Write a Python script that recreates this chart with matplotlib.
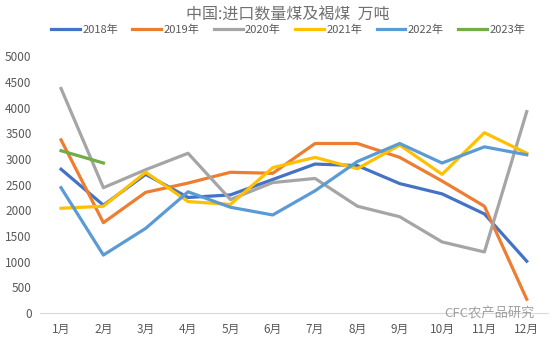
import matplotlib.pyplot as plt

plt.rcParams['font.family'] = ['Noto Sans CJK SC', 'DejaVu Sans']

months = ['1月', '2月', '3月', '4月', '5月', '6月', '7月', '8月', '9月', '10月', '11月', '12月']
y2018 = [2800, 2100, 2700, 2250, 2300, 2600, 2900, 2870, 2520, 2320, 1930, 1010]
y2019 = [3370, 1760, 2350, 2530, 2740, 2720, 3300, 3300, 3030, 2570, 2080, 270]
y2020 = [4370, 2440, 2790, 3110, 2210, 2540, 2620, 2080, 1875, 1385, 1190, 3920]
y2021 = [2040, 2080, 2740, 2170, 2115, 2830, 3030, 2810, 3270, 2700, 3510, 3110]
y2022 = [2440, 1130, 1650, 2360, 2060, 1910, 2380, 2950, 3300, 2920, 3235, 3080]
y2023 = [3160, 2920]

series = [('2018年', y2018, '#4472C4'), ('2019年', y2019, '#ED7D31'),
          ('2020年', y2020, '#A5A5A5'), ('2021年', y2021, '#FFC000'),
          ('2022年', y2022, '#5B9BD5'), ('2023年', y2023, '#70AD47')]

fig = plt.figure(figsize=(5.54, 3.4), dpi=100)
ax = fig.add_axes([0.072, 0.079, 0.917, 0.756])

for name, vals, col in series:
    ax.plot(range(len(vals)), vals, color=col, lw=2.3, label=name)

ax.set_xlim(-0.5, 11.5)
ax.set_ylim(0, 5000)
ax.set_yticks(range(0, 5001, 500))
ax.set_xticks(range(12))
ax.set_xticklabels(months)
ax.tick_params(length=0, labelsize=8.5, colors='#595959')
ax.tick_params(axis='x', pad=7)
ax.tick_params(axis='y', pad=6)
for s in ['top', 'right', 'left']:
    ax.spines[s].set_visible(False)
ax.spines['bottom'].set_color('#D9D9D9')

fig.text(0.52, 0.955, '中国:进口数量煤及褐煤  万吨', ha='center', va='center',
         fontsize=11.5, color='#707070')
fig.legend(loc='center', bbox_to_anchor=(0.52, 0.912), ncol=6, frameon=False,
           fontsize=8, handlelength=2.6, columnspacing=1.3, handletextpad=0.2,
           labelcolor='#595959')

fig.text(0.965, 0.075, 'CFC农产品研究', ha='right', va='center', fontsize=9.5,
         color='#888888', alpha=0.8)

fig.savefig('out.png')
